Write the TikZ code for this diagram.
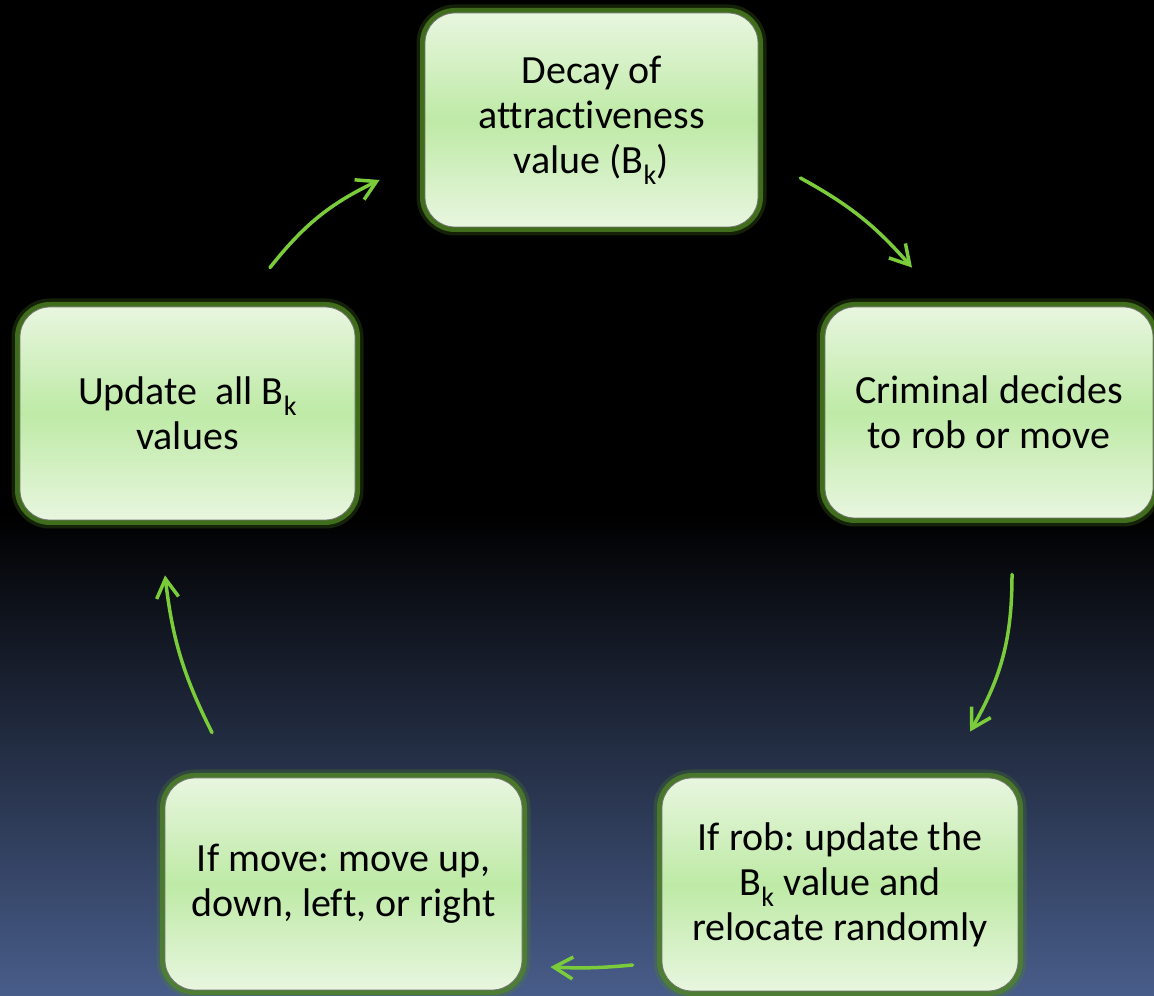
\documentclass[tikz,border=0pt]{standalone}
\usepackage{fontspec}
\setmainfont{Carlito}[Ligatures=NoCommon]
\usetikzlibrary{calc,arrows.meta}
\definecolor{bgblue}{RGB}{72,93,138}
\definecolor{boxtop}{RGB}{232,246,223}
\definecolor{boxmid}{RGB}{190,234,166}
\definecolor{glowgreen}{RGB}{80,135,35}
\definecolor{arrowgreen}{RGB}{122,204,58}
\tikzset{
    lab/.style={
        font=\fontsize{40}{45}\selectfont
    }
}

\begin{document}
\frenchspacing
\begin{tikzpicture}[x=1pt,y=1pt, line cap=round, line join=round]

\tikzset{
  stepbox/.style={lab, rectangle, rounded corners=30pt, align=center, inner sep=0pt,
    draw=black!55, line width=0.8pt,
    top color=boxtop, bottom color=boxtop, middle color=boxmid,
    preaction={draw=glowgreen, draw opacity=0.25, line width=17pt},
    preaction={draw=glowgreen, draw opacity=0.75, line width=10pt}},
  flow/.style={draw=arrowgreen, line width=3.5pt, -{Straight Barb[length=19pt,width=22pt]}},
}

\useasboundingbox (0,0) rectangle (1154,996);

% background
\fill[black] (0,480) rectangle (1154,996);
\shade[top color=black, bottom color=bgblue] (0,0) rectangle (1154,481);

% steps
\node[stepbox, minimum width=333pt, minimum height=214pt] (decay) at (591.5,876) {Decay of\\attractiveness\\value (B\textsubscript{k})};
\node[stepbox, minimum width=328pt, minimum height=211pt] (decide) at (989,583.5) {Criminal decides\\to rob or move};
\node[stepbox, minimum width=356pt, minimum height=213pt] (rob) at (840,111.5) {If rob: update the\\B\textsubscript{k} value and\\relocate randomly};
\node[stepbox, minimum width=357pt, minimum height=212pt] (move) at (343.5,112) {If move: move up,\\down, left, or right};
\node[stepbox, minimum width=335pt, minimum height=213pt] (update) at (187.5,582.5) {Update\ \ all B\textsubscript{k}\\values};

% cycle arrows
\draw[flow] ($(decay.east)+(42,-58)$) to[bend left=10] ($(decide.north)+(-77,39)$);
\draw[flow] ($(decide.south)+(23,-56)$) to[bend left=15] ($(rob.north)+(130,46)$);
\draw[flow] ($(rob.west)+(-29,-80.5)$) to[bend left=4] ($(move.east)+(28,-83)$);
\draw[flow] ($(move.north)+(-131.5,45)$) to[bend left=10] ($(update.south)+(-22.5,-55)$);
\draw[flow] ($(update.north)+(82.5,39)$) to[bend left=13] ($(decay.west)+(-45,-60)$);

\end{tikzpicture}
\end{document}
